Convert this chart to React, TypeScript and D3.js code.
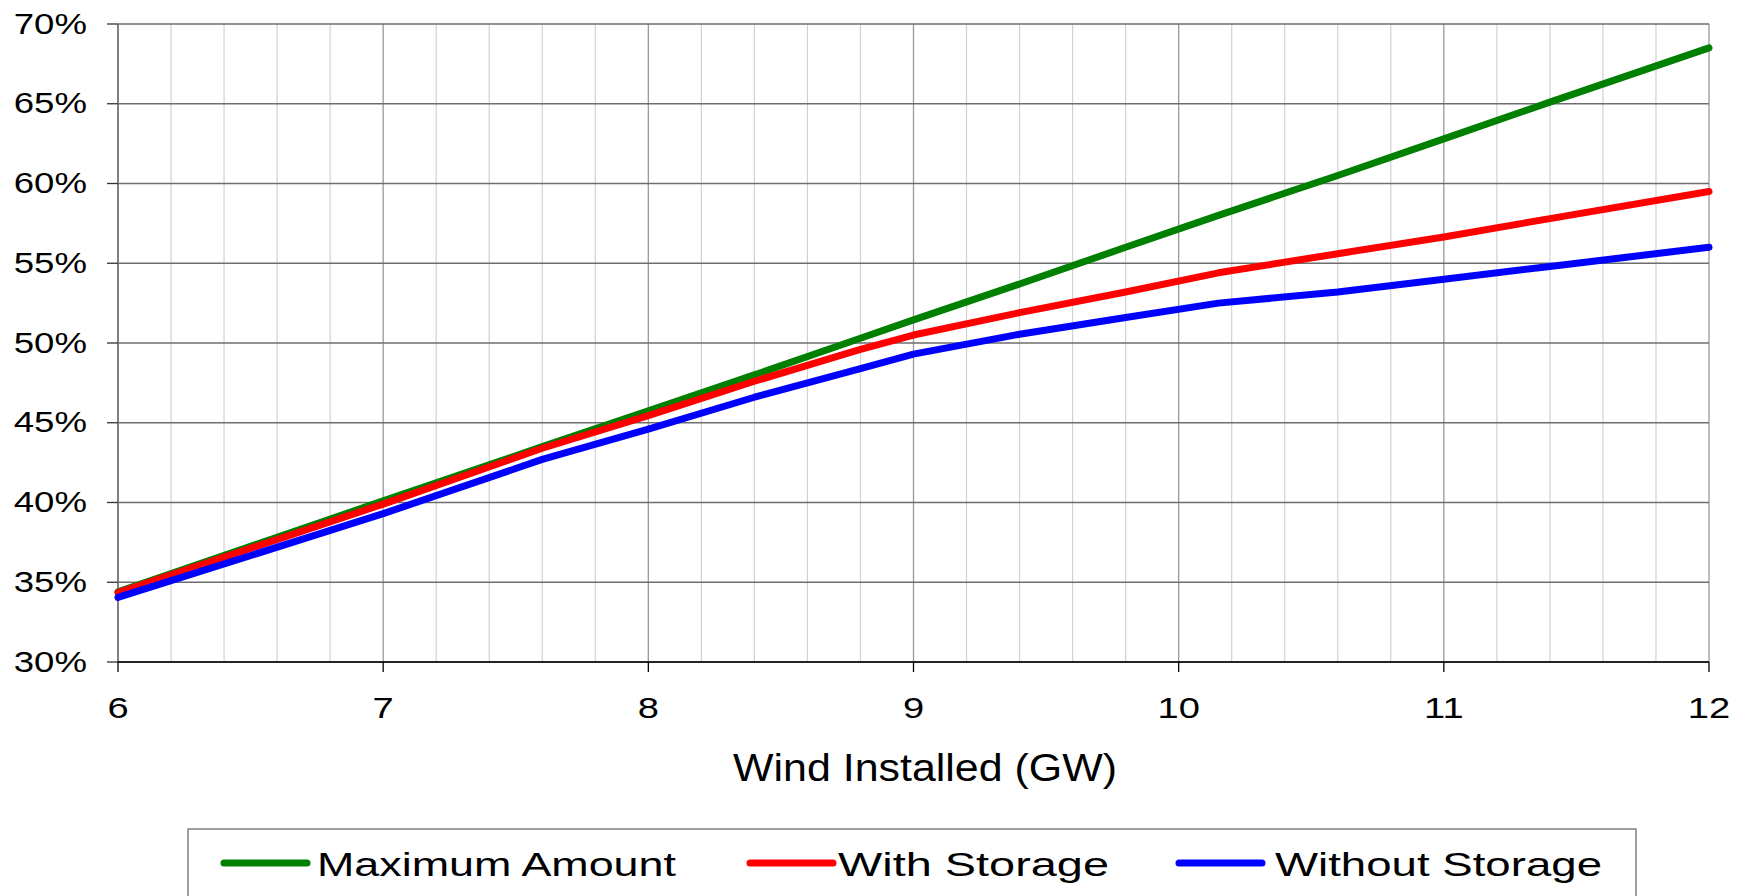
import * as d3 from "d3"

// Wind installed (GW) and share of demand met
const windGW = [6, 7, 7.6, 8, 8.4, 8.8, 9, 9.4, 9.8, 10.15, 10.6, 11, 11.4, 12]
const maximumAmount = [34.4, 40.1, 43.5, 45.75, 48.0, 50.3, 51.45, 53.7, 56.0, 58.0, 60.5, 62.8, 65.1, 68.5]
const withStorage = [34.35, 39.9, 43.4, 45.45, 47.6, 49.6, 50.5, 51.9, 53.2, 54.4, 55.6, 56.65, 57.8, 59.5]
const withoutStorage = [34.05, 39.3, 42.7, 44.6, 46.6, 48.4, 49.3, 50.55, 51.6, 52.5, 53.2, 54.0, 54.8, 56.0]

const seriesNames = ["Maximum Amount", "With Storage", "Without Storage"]
const seriesColors = ["#008000", "#ff0000", "#0000ff"]
const yTicks = [30, 35, 40, 45, 50, 55, 60, 65, 70]
const xTicks = [6, 7, 8, 9, 10, 11, 12]

const W = 1747
const H = 896
const plot = { left: 118, right: 1709, top: 24, bottom: 662 }
const font = "'Liberation Sans', Arial, sans-serif"

export default function App() {
  const x = d3.scaleLinear().domain([6, 12]).range([plot.left, plot.right])
  const y = d3.scaleLinear().domain([30, 70]).range([plot.bottom, plot.top])

  const line = d3
    .line<[number, number]>()
    .x((d) => x(d[0]))
    .y((d) => y(d[1]))

  const series = [maximumAmount, withStorage, withoutStorage].map((vals) =>
    windGW.map((g, i) => [g, vals[i]] as [number, number])
  )

  // minor vertical gridlines every 0.2 GW
  const minorX = d3.range(6, 12.0001, 0.2).filter((v) => Math.abs(v - Math.round(v)) > 0.01)

  // legend layout: swatch start, text start, text width
  const legendItems = [
    { sx: 224, tx: 317, tw: 359 },
    { sx: 750, tx: 838, tw: 271 },
    { sx: 1179, tx: 1275, tw: 327 },
  ]

  return (
    <svg
      width={W}
      height={H}
      style={{ position: "absolute", left: 0, top: 0, display: "block", background: "#fff" }}
      fontFamily={font}
    >
      <rect x={0} y={0} width={W} height={H} fill="#fff" />

      {/* minor vertical grid */}
      {minorX.map((v) => (
        <line key={"mx" + v} x1={x(v)} x2={x(v)} y1={plot.top} y2={plot.bottom} stroke="#d2d2d2" strokeWidth={1.2} />
      ))}
      {/* major vertical grid */}
      {xTicks.map((v) => (
        <line key={"vx" + v} x1={x(v)} x2={x(v)} y1={plot.top} y2={plot.bottom} stroke="#999" strokeWidth={1.3} />
      ))}
      {/* horizontal grid */}
      {yTicks.map((v) => (
        <line key={"hy" + v} x1={plot.left} x2={plot.right} y1={y(v)} y2={y(v)} stroke="#6e6e6e" strokeWidth={1.3} />
      ))}

      {/* axes */}
      <line x1={plot.left} x2={plot.left} y1={plot.top} y2={plot.bottom} stroke="#808080" strokeWidth={2} />
      <line x1={plot.left} x2={plot.right} y1={plot.bottom} y2={plot.bottom} stroke="#000" strokeWidth={1.5} />

      {yTicks.map((v) => (
        <g key={"yt" + v}>
          <line x1={plot.left - 11} x2={plot.left} y1={y(v)} y2={y(v)} stroke="#333" strokeWidth={1.3} />
          <text transform={`translate(87,${y(v) + 9.5}) scale(1.22,1)`} textAnchor="end" fontSize={30} fill="#000">
            {v}%
          </text>
        </g>
      ))}

      {xTicks.map((v) => (
        <g key={"xt" + v}>
          <line x1={x(v)} x2={x(v)} y1={plot.bottom} y2={plot.bottom + 10} stroke="#000" strokeWidth={1.3} />
          <text transform={`translate(${x(v)},718) scale(1.27,1)`} textAnchor="middle" fontSize={30} fill="#000">
            {v}
          </text>
        </g>
      ))}

      <text transform="translate(925,781) scale(1.13,1)" textAnchor="middle" fontSize={38} fill="#000">
        Wind Installed (GW)
      </text>

      {/* series lines */}
      {series.map((pts, i) => (
        <path
          key={seriesNames[i]}
          d={line(pts) || ""}
          fill="none"
          stroke={seriesColors[i]}
          strokeWidth={7}
          strokeLinejoin="round"
          strokeLinecap="round"
        />
      ))}

      {/* legend */}
      <rect x={188} y={829} width={1448} height={100} fill="#fff" stroke="#808080" strokeWidth={1.5} />
      {legendItems.map((it, i) => (
        <g key={"lg" + i}>
          <line x1={it.sx} x2={it.sx + 83} y1={863} y2={863} stroke={seriesColors[i]} strokeWidth={7} strokeLinecap="round" />
          <text
            x={it.tx}
            y={876}
            fontSize={33}
            fill="#000"
            textLength={it.tw}
            lengthAdjust="spacingAndGlyphs"
          >
            {seriesNames[i]}
          </text>
        </g>
      ))}
    </svg>
  )
}
